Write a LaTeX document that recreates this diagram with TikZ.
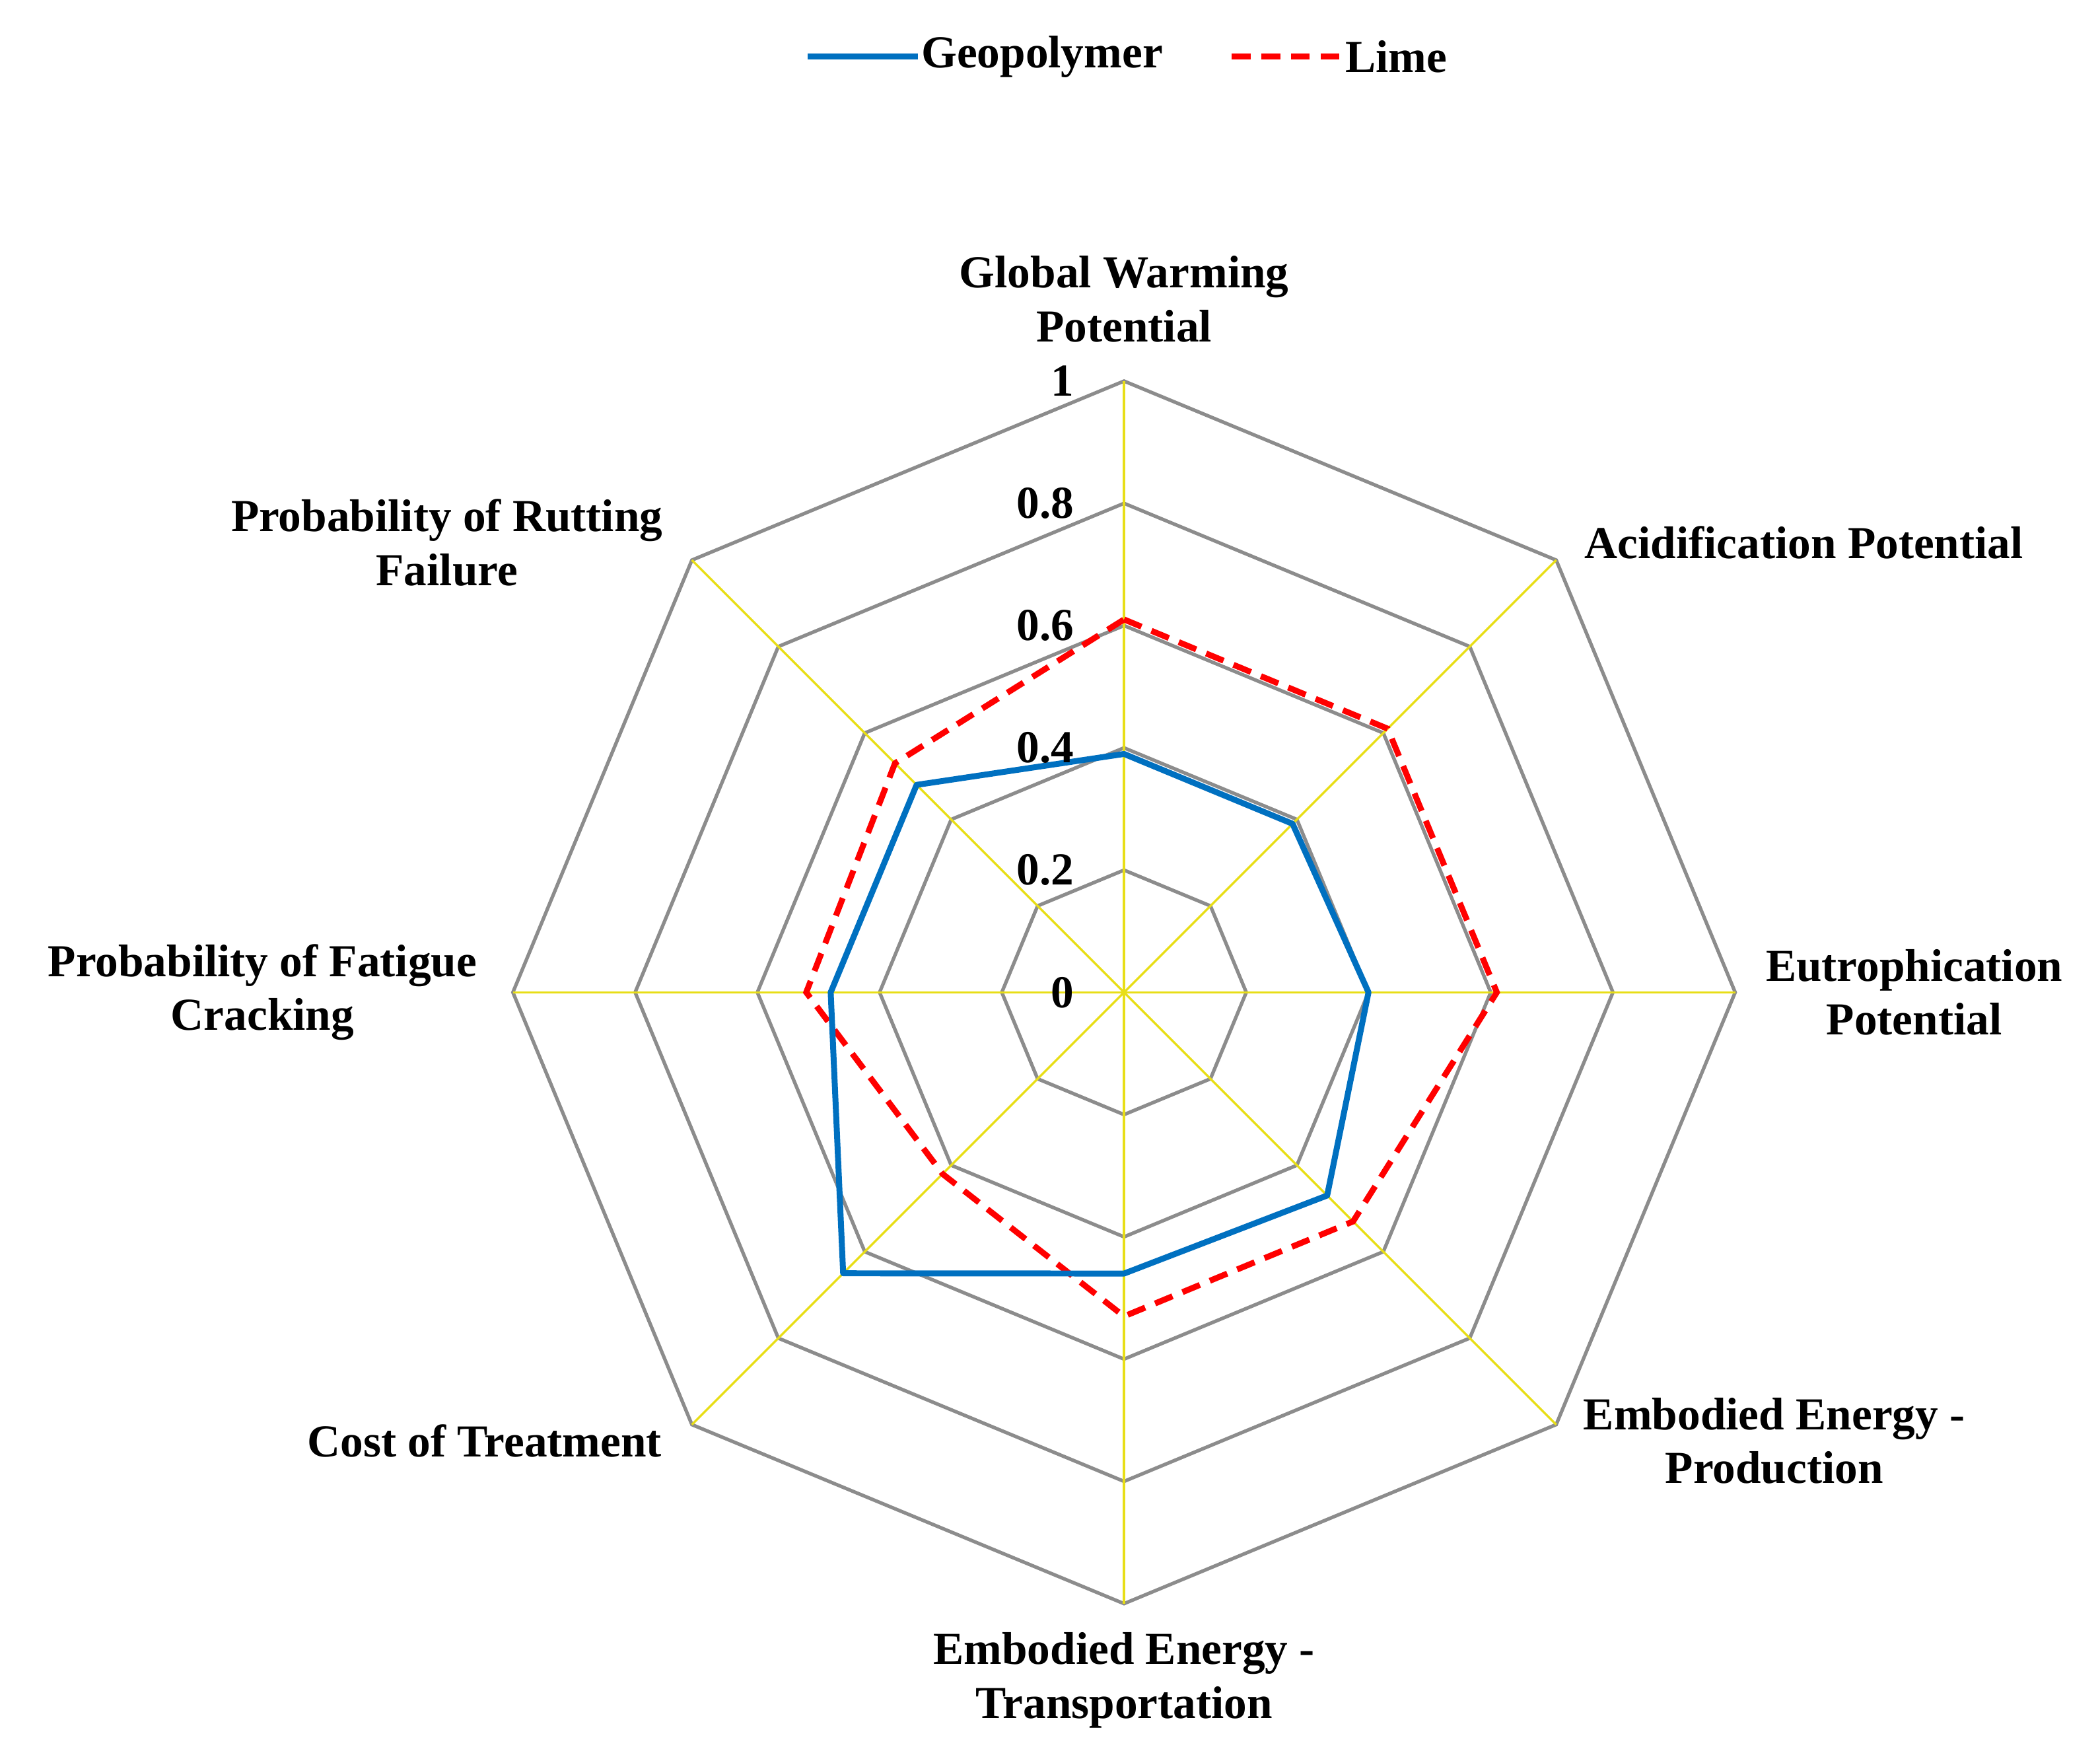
\documentclass[tikz,border=0pt]{standalone}
\usepackage{fontspec}
\setmainfont{Liberation Serif}
\usetikzlibrary{calc}
\definecolor{geoblue}{RGB}{0,112,192}
\begin{document}
\begin{tikzpicture}[x=0.5pt,y=-0.5pt,
  lab/.style={font=\bfseries\fontsize{17}{20}\selectfont,align=center},
  tick/.style={font=\bfseries\fontsize{17}{20}\selectfont,anchor=east},
  grid/.style={draw=gray!90,line width=1.3pt},
  spoke/.style={draw=yellow!90!black,line width=0.8pt},
  geo/.style={draw=geoblue,line width=2.2pt,line join=round},
  lime/.style={draw=red,line width=2.2pt,dashed,dash pattern=on 7pt off 4pt}]
\useasboundingbox (0,0) rectangle (1560,1306);
\coordinate (c) at (835,737);
\def\R{454}
\foreach \k in {1,...,5}{
  \draw[grid] ($(c)+(90:{\k*0.2*\R})$) \foreach \a in {45,0,-45,-90,-135,180,135}{ -- ($(c)+(\a:{\k*0.2*\R})$)} -- cycle;
}
\foreach \a in {90,45,...,-225}{ \draw[spoke] (c) -- ($(c)+(\a:\R)$); }
\draw[lime] ($(c)+(-90:0.61*\R)$) -- ($(c)+(-45:0.61*\R)$) -- ($(c)+(0:0.61*\R)$) -- ($(c)+(45:0.53*\R)$) -- ($(c)+(90:0.53*\R)$) -- ($(c)+(135:0.42*\R)$) -- ($(c)+(180:0.52*\R)$) -- ($(c)+(-135:0.53*\R)$) -- cycle;
\draw[geo] ($(c)+(-90:0.39*\R)$) -- ($(c)+(-45:0.39*\R)$) -- ($(c)+(0:0.40*\R)$) -- ($(c)+(45:0.47*\R)$) -- ($(c)+(90:0.46*\R)$) -- ($(c)+(135:0.65*\R)$) -- ($(c)+(180:0.48*\R)$) -- ($(c)+(-135:0.48*\R)$) -- cycle;
\foreach \k/\t in {0/0,1/0.2,2/0.4,3/0.6,4/0.8,5/1}{
  \node[tick] (t\k) at ($(c)+(-30,{-\k*0.2*\R})$) {\t};
}
\node[lab] (gwp) at (835,222) {Global Warming\\Potential};
\node[lab] (acid) at (1340,403) {Acidification Potential};
\node[lab] (eut) at (1422,737) {Eutrophication\\Potential};
\node[lab] (eep) at (1318,1070) {Embodied Energy -\\Production};
\node[lab] (eet) at (835,1248) {Embodied Energy -\\Transportation};
\node[lab] (cost) at (360,1070) {Cost of Treatment};
\node[lab] (fat) at (195,737) {Probability of Fatigue\\Cracking};
\node[lab] (rut) at (332,403) {Probability of Rutting\\Failure};
\coordinate (g1) at (600,42); \coordinate (g2) at (682,42);
\draw[geo] (g1) -- (g2);
\node[lab,anchor=west,inner sep=1pt] (gl) at (g2) {Geopolymer};
\coordinate (l1) at (915,42); \coordinate (l2) at (997,42);
\draw[lime] (l1) -- (l2);
\node[lab,anchor=west,inner sep=1pt] (ll) at (l2) {Lime};
\end{tikzpicture}
\end{document}
